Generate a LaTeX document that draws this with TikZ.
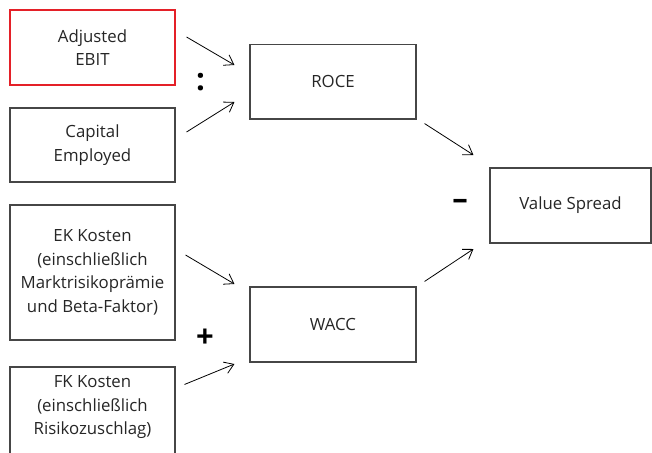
\documentclass[tikz,border=0pt]{standalone}
\usepackage{fontspec}
\setmainfont{Open Sans}
\usetikzlibrary{arrows.meta,calc}
\definecolor{boxred}{RGB}{228,32,40}
\definecolor{boxgray}{RGB}{70,70,70}
\begin{document}
\begin{tikzpicture}[x=1pt,y=-1pt,
  box/.style={draw=boxgray,line width=1.1pt,rectangle,inner sep=0pt,align=center,
    font=\fontsize{16.8}{23.5}\selectfont,text=black!85},
  conn/.style={line width=0.8pt,-{Straight Barb[length=9pt,width=12pt,line width=0.8pt]}},
  op/.style={font=\bfseries\fontsize{31}{31}\selectfont,inner sep=0pt}]
\useasboundingbox[fill=white] (0,0) rectangle (652,452);
\node[box,draw=boxred,minimum width=165pt,minimum height=75pt] (ebit) at (92.5,47.5) {Adjusted\\EBIT};
\node[box,minimum width=165pt,minimum height=74pt] (ce) at (92.5,145) {Capital\\Employed};
\node[box,minimum width=165pt,minimum height=135pt] (ek) at (92.5,272.5) {EK Kosten\\(einschließlich\\Marktrisikoprämie\\und Beta-Faktor)};
\node[box,minimum width=165pt,minimum height=100pt] (fk) at (92.5,417) {FK Kosten\\(einschließlich\\Risikozuschlag)\\\mbox{}};
\node[box,minimum width=166pt,minimum height=74.5pt] (roce) at (333,81.75) {ROCE};
\node[box,minimum width=166pt,minimum height=75pt] (wacc) at (333,324.5) {WACC};
\node[box,minimum width=161pt,minimum height=75pt] (vs) at (570.5,205.5) {Value Spread};
\draw[conn] ($(ebit.east)+(11,-10.5)$) -- ($(roce.west)+(-15,-16.75)$);
\draw[conn] ($(ce.east)+(11,-13)$) -- ($(roce.west)+(-15,20.25)$);
\draw[conn] ($(roce.south east)+(8,4)$) -- ($(vs.west)+(-16,-50.5)$);
\draw[conn] ($(wacc.north east)+(8,-5)$) -- ($(vs.west)+(-16,43.5)$);
\draw[conn] ($(ek.east)+(10,-17.5)$) -- ($(wacc.west)+(-15,-40.5)$);
\draw[conn] ($(fk.north east)+(9,18)$) -- ($(wacc.west)+(-15,39.5)$);
\node[op] (colon) at (200.5,82.5) {:};
\node[op] (plus) at (205,338) {+};
\node[op] (minus) at (460,204) {–};
\end{tikzpicture}
\end{document}
